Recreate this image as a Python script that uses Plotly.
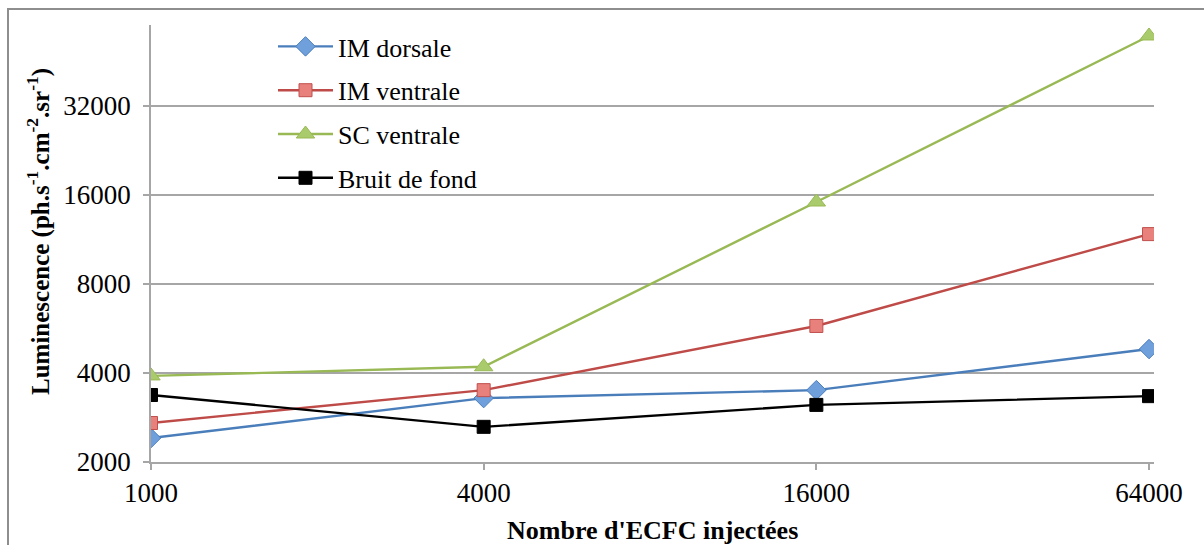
import numpy as np
import plotly.graph_objects as go

# Number of injected ECFC (x) and measured luminescence per site (y)
cells = [1000, 4000, 16000, 64000]
im_dorsale = [2410, 3290, 3500, 4820]
im_ventrale = [2710, 3500, 5770, 11800]
sc_ventrale = [3910, 4200, 15150, 55200]
bruit_de_fond = [3370, 2630, 3120, 3340]

x_ticks = [1000, 4000, 16000, 64000]
y_ticks = [2000, 4000, 8000, 16000, 32000]

W, H = 1204, 545
ML, MR, MT, MB = 151, 50, 25, 83
pw, ph = W - ML - MR, H - MT - MB

FONT = "Liberation Serif"

series = [
    ("IM dorsale", im_dorsale, "#4A7EBB", "diamond", "#6FA0DC", "#4A7EBB", 15),
    ("IM ventrale", im_ventrale, "#BE4B48", "square", "#E8807C", "#C0504D", 13),
    ("SC ventrale", sc_ventrale, "#98B954", "triangle-up", "#A9CB6B", "#98B954", 16),
    ("Bruit de fond", bruit_de_fond, "#000000", "square", "#000000", "#000000", 13),
]

fig = go.Figure()
for i, (name, vals, lc, sym, fc, bc, sz) in enumerate(series):
    fig.add_trace(go.Scatter(
        x=cells, y=vals, name=name, mode="lines+markers",
        legendgroup=name,
        line=dict(color=lc, width=2.4),
        marker=dict(symbol=sym, size=sz, color=fc, line=dict(color=bc, width=1)),
    ))

# x range: starts at 1000, ends a few pixels past 64000
xr0 = np.log10(1000)
xr1 = np.log10(64000) + 5 / (pw / (np.log10(64000) - np.log10(1000)))
# y range: from 2000 up to the top of the plot area
px_per_oct = 89.0
yr0 = np.log10(2000)
yr1 = np.log10(2000) + (ph / px_per_oct) * np.log10(2)

fig.update_layout(
    width=W, height=H,
    margin=dict(l=ML, r=MR, t=MT, b=MB, autoexpand=False),
    paper_bgcolor="white", plot_bgcolor="white",
    font=dict(family=FONT, size=26, color="black"),
    showlegend=True,
    legend=dict(
        x=(273 - ML) / pw, y=1.0 + (MT - 23) / ph, xanchor="left", yanchor="top",
        bgcolor="rgba(0,0,0,0)", font=dict(family=FONT, size=26),
        tracegroupgap=7, itemwidth=55,
    ),
    xaxis=dict(
        type="log", range=[xr0, xr1], automargin=False,
        tickvals=x_ticks, ticktext=[str(v) for v in x_ticks],
        showgrid=False, zeroline=False,
        showline=True, linecolor="#A6A6A6", linewidth=1.5,
        ticks="outside", ticklen=6, tickcolor="#A6A6A6", tickwidth=1.5,
        tickfont=dict(family=FONT, size=27),
    ),
    yaxis=dict(
        type="log", range=[yr0, yr1], automargin=False,
        tickvals=y_ticks, ticktext=[str(v) for v in y_ticks],
        showgrid=True, gridcolor="#A6A6A6", gridwidth=1.5,
        zeroline=False,
        showline=True, linecolor="#A6A6A6", linewidth=1.5,
        ticks="outside", ticklen=6, tickcolor="#A6A6A6", tickwidth=1.5,
        ticklabelstandoff=7,
        tickfont=dict(family=FONT, size=27),
    ),
)

# Axis titles
fig.add_annotation(
    text="<b>Nombre d'ECFC injectées</b>", xref="paper", yref="paper",
    x=0.5, y=((H - MB) - 530) / ph, xanchor="center", yanchor="middle",
    showarrow=False, font=dict(family=FONT, size=26),
)
fig.add_annotation(
    text="<b>Luminescence (ph.s<sup>-1</sup>.cm<sup>-2</sup>.sr<sup>-1</sup>)</b>",
    xref="paper", yref="paper",
    x=(38 - ML) / pw, y=((H - MB) - 232) / ph, xanchor="center", yanchor="middle",
    textangle=-90, showarrow=False, font=dict(family=FONT, size=25),
)

# Outer chart frame, running off the right and bottom edges
fig.add_shape(
    type="rect", xref="paper", yref="paper",
    x0=(8 - ML) / pw, x1=(W + 10 - ML) / pw,
    y0=((H - MB) - (H + 10)) / ph, y1=((H - MB) - 9) / ph,
    line=dict(color="#8E8E8E", width=2), fillcolor="rgba(0,0,0,0)", layer="below",
)

fig.write_html("out.html")
